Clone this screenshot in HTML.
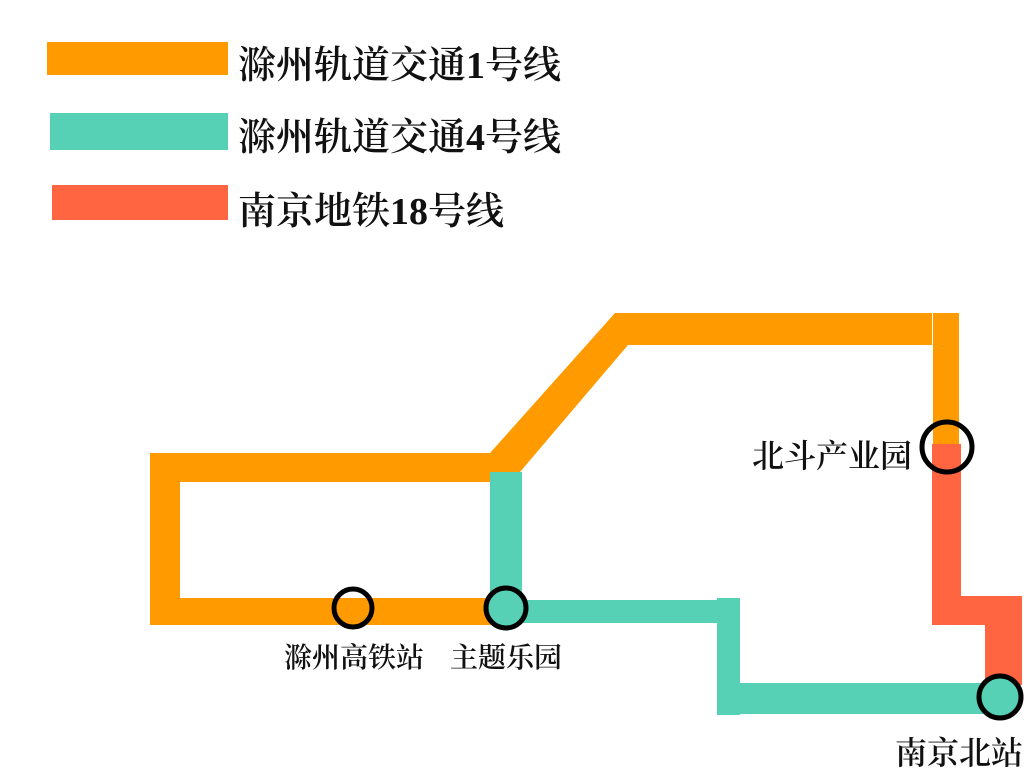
<!DOCTYPE html>
<html><head><meta charset="utf-8"><style>
html,body{margin:0;padding:0;background:#fff;}
body{width:1024px;height:768px;overflow:hidden;position:relative;}
.t{position:absolute;font-family:"Liberation Serif","Noto Serif CJK SC",serif;color:#111;white-space:nowrap;font-weight:600;}
</style></head><body>
<svg width="1024" height="768" style="position:absolute;left:0;top:0">
<rect x="47" y="42" width="181" height="33" fill="#FF9A00"/>
<rect x="50" y="113" width="178" height="37" fill="#56D1B6"/>
<rect x="52" y="185" width="176" height="35" fill="#FF6540"/>
<polygon points="150,453 490,453 615,313 932,313 932,345 628,345 520,472 490,472 490,482 180,482 180,598 505,598 505,625 150,625" fill="#FF9A00"/>
<rect x="933" y="313" width="26" height="132" fill="#FF9A00"/>
<rect x="490" y="472" width="32" height="130" fill="#56D1B6"/>
<rect x="505" y="600" width="235" height="23" fill="#56D1B6"/>
<rect x="717" y="598" width="23" height="117" fill="#56D1B6"/>
<rect x="717" y="683" width="293" height="31" fill="#56D1B6"/>
<rect x="932" y="444" width="29" height="181" fill="#FF6540"/>
<rect x="932" y="596" width="90" height="29" fill="#FF6540"/>
<rect x="985" y="596" width="37" height="89" fill="#FF6540"/>
<g stroke="#000" stroke-width="5">
<circle cx="353" cy="608" r="19" fill="none"/>
<circle cx="506" cy="608" r="20" fill="#56D1B6"/>
<circle cx="947" cy="447" r="25" fill="none"/>
<circle cx="1000" cy="697" r="21" fill="#56D1B6"/>
</g>
</svg>
<div class="t" style="left:238px;top:34px;font-size:38px;">滁州轨道交通1号线</div>
<div class="t" style="left:238px;top:106px;font-size:38px;">滁州轨道交通4号线</div>
<div class="t" style="left:238px;top:180px;font-size:38px;">南京地铁18号线</div>
<div class="t" style="left:284px;top:636px;font-size:28px;">滁州高铁站</div>
<div class="t" style="left:450px;top:636px;font-size:28px;">主题乐园</div>
<div class="t" style="left:752px;top:431px;font-size:32px;">北斗产业园</div>
<div class="t" style="left:895px;top:728px;font-size:32px;">南京北站</div>
</body></html>
